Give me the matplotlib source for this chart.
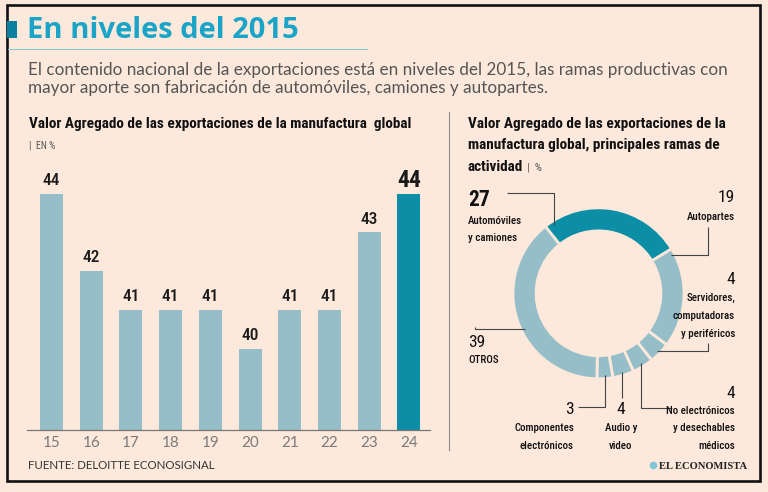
import math
import matplotlib
matplotlib.use('Agg')
import matplotlib.pyplot as plt
import matplotlib.font_manager as fm
from matplotlib.patches import Rectangle

# datos
anios = ['15', '16', '17', '18', '19', '20', '21', '22', '23', '24']
valor_agregado = [44, 42, 41, 41, 41, 40, 41, 41, 43, 44]

ramas = ['Automóviles\ny camiones', 'Autopartes',
         'Servidores,\ncomputadoras\ny periféricos',
         'No electrónicos\ny desechables\nmédicos',
         'Audio y\nvideo', 'Componentes\nelectrónicos', 'OTROS']
participacion = [27, 19, 4, 4, 4, 3, 39]

titulo = 'En niveles del 2015'
subtitulo = ['El contenido nacional de la exportaciones está en niveles del 2015, las ramas productivas con',
             'mayor aporte son fabricación de automóviles, camiones y autopartes.']
titulo_barras = 'Valor Agregado de las exportaciones de la manufactura  global'
titulo_dona = ['Valor Agregado de las exportaciones de la',
               'manufactura global, principales ramas de',
               'actividad']
fuente = 'FUENTE: DELOITTE ECONOSIGNAL'

BG = '#fde9dc'
CLARO = '#96bec8'
OSCURO = '#0b8ea6'
AZUL = '#1aa5c8'

nombres = {f.name for f in fm.fontManager.ttflist}
def elegir(*cands):
    for c in cands:
        if c in nombres:
            return c
    return 'DejaVu Sans'

COND = elegir('Roboto Condensed', 'Liberation Sans Narrow', 'DejaVu Sans Condensed', 'Open Sans Condensed')
SANS = elegir('Lato', 'Open Sans', 'Noto Sans')
TIT = elegir('Open Sans', 'Lato', 'Noto Sans')
SERIF = elegir('Liberation Serif', 'DejaVu Serif')
STRETCH = 'condensed' if COND == 'DejaVu Sans' else 'normal'

W, H = 768, 492
fig = plt.figure(figsize=(W / 100, H / 100), dpi=100, facecolor=BG)

def caja(x0, y0, x1, y1):
    return [x0 / W, 1 - y1 / H, (x1 - x0) / W, (y1 - y0) / H]

# ---- barras
ax = fig.add_axes(caja(27, 170, 430, 430))
ax.set_facecolor('none')
colores = [CLARO] * (len(anios) - 1) + [OSCURO]
ax.bar(range(len(anios)), valor_agregado, width=0.58, color=colores)
ax.set_xlim(-0.617, 9.53)
ax.set_ylim(37.9, 44.61)
ax.set_xticks(range(len(anios)), anios)
ax.set_yticks([])
ax.tick_params(axis='x', length=0, pad=4, labelsize=11, labelcolor='#7a7a7a')
for lbl in ax.get_xticklabels():
    lbl.set_fontfamily(SANS)
for s in ['top', 'right', 'left']:
    ax.spines[s].set_visible(False)
ax.spines['bottom'].set_color('#777777')
ax.spines['bottom'].set_linewidth(0.9)
for i, v in enumerate(valor_agregado):
    ultimo = i == len(anios) - 1
    ax.annotate(str(v), (i, v), xytext=(0, 9.5), textcoords='offset points',
                ha='center', va='center', family=COND, stretch=STRETCH,
                fontsize=17 if ultimo else 12.5,
                fontweight='bold' if ultimo else 'medium', color='#1a1a1a')

# ---- dona
CX, CY, R = 598.5, 293.3, 85.5
ax2 = fig.add_axes(caja(CX - R, CY - R, CX + R, CY + R))
cunas, _ = ax2.pie(participacion, colors=[OSCURO] + [CLARO] * 6, startangle=128.5,
                   counterclock=False, radius=1,
                   wedgeprops=dict(width=0.27, edgecolor=BG, linewidth=2))
ax2.set_xlim(-1, 1)
ax2.set_ylim(-1, 1)
ax2.set_aspect('equal')

# ---- capa de textos (coordenadas en pixeles desde arriba)
ov = fig.add_axes([0, 0, 1, 1])
ov.set_xlim(0, W)
ov.set_ylim(H, 0)
ov.axis('off')
ov.set_zorder(5)

ov.add_patch(Rectangle((7, 5), 753, 476, fill=False, ec='#111111', lw=1.9))
ov.add_patch(Rectangle((7, 21), 9.5, 16.5, fc='#0a7f9e', ec='none'))
ov.plot([8, 367], [49, 49], color='#8cc9d6', lw=0.8)
ov.plot([449, 449], [112, 450], color='#8a8a8a', lw=0.8)

ov.text(27, 38.5, titulo, family=TIT, fontweight='bold', fontsize=21, color=AZUL)
for k, linea in enumerate(subtitulo):
    ov.text(28, 75 + k * 18, linea, family=SANS, fontsize=12.3, color='#555555')

ov.text(29, 127.7, titulo_barras, family=COND, stretch=STRETCH, fontweight='bold',
        fontsize=11, color='#111111')
ov.text(29, 148.3, '|  EN %', family=COND, stretch=STRETCH, fontsize=7, color='#555555')

t = None
for k, linea in enumerate(titulo_dona):
    t = ov.text(468, 128 + k * 21.5, linea, family=COND, stretch=STRETCH,
                fontweight='bold', fontsize=11, color='#111111')
rend = fig.canvas.get_renderer()
x_fin = ov.transData.inverted().transform((t.get_window_extent(rend).x1, 0))[0]
ov.text(x_fin + 4, 171, '|  %', family=COND, stretch=STRETCH, fontsize=8, color='#555555')

ov.text(28, 469, fuente, family=SANS, fontsize=8.3, color='#333333')
ov.plot([653.3], [465], 'o', ms=4.5, color='#7fc6d8')
ov.text(659, 469, 'EL ECONOMISTA', family=SERIF, fontweight='bold', fontsize=7.6,
        color='#222222')

# etiquetas de la dona: (x, alineacion, y numero, y primer renglon)
disposicion = [(468, 'left', 200, 220.7),
               (735, 'right', 198, 216.7),
               (735, 'right', 279, 298.3),
               (735, 'right', 393.3, 410.5),
               (620.7, 'center', 410, 428.3),
               (574, 'right', 409.3, 428.3),
               (468, 'left', 342.3, 360)]
# guias: (fraccion sobre la cuna desde su inicio, tipo, a, b)
guias = [(0.056, 'v', 193.3, 506.7),
         (0.05, 'h', 708.3, 226.7),
         (0.5, 'h', 708.3, 342.7),
         (0.5, 'v', 408.3, 671.7),
         (0.5, 'v', 398.3, None),
         (0.5, 'v', 406.7, 578.3),
         (0.45, 'h', 475, 326.7)]

for i, (nombre, pct) in enumerate(zip(ramas, participacion)):
    x, ha, yn, yl = disposicion[i]
    grande = i == 0
    ov.text(x, yn, str(pct), ha=ha, va='center', family=COND, stretch=STRETCH,
            fontsize=15.5 if grande else 12.5, fontweight='bold' if grande else 'normal',
            color='#111111')
    for k, renglon in enumerate(nombre.split('\n')):
        ov.text(x, yl + k * 17.7, renglon, ha=ha, va='center', family=COND,
                stretch=STRETCH, fontsize=7.8, fontweight='medium', color='#111111')
    w = cunas[i]
    f, tipo, a, b = guias[i]
    ang = math.radians(w.theta2 - f * (w.theta2 - w.theta1))
    px = CX + 0.96 * R * math.cos(ang)
    py = CY - 0.96 * R * math.sin(ang)
    if tipo == 'v':
        xs, ys = [px, px], [py, a]
        if b is not None:
            xs.append(b)
            ys.append(a)
    else:
        xs, ys = [px, a, a], [py, py, b]
    ov.plot(xs, ys, color='#444444', lw=0.8, solid_capstyle='butt')

fig.savefig('out.png', dpi=100, facecolor=BG)
